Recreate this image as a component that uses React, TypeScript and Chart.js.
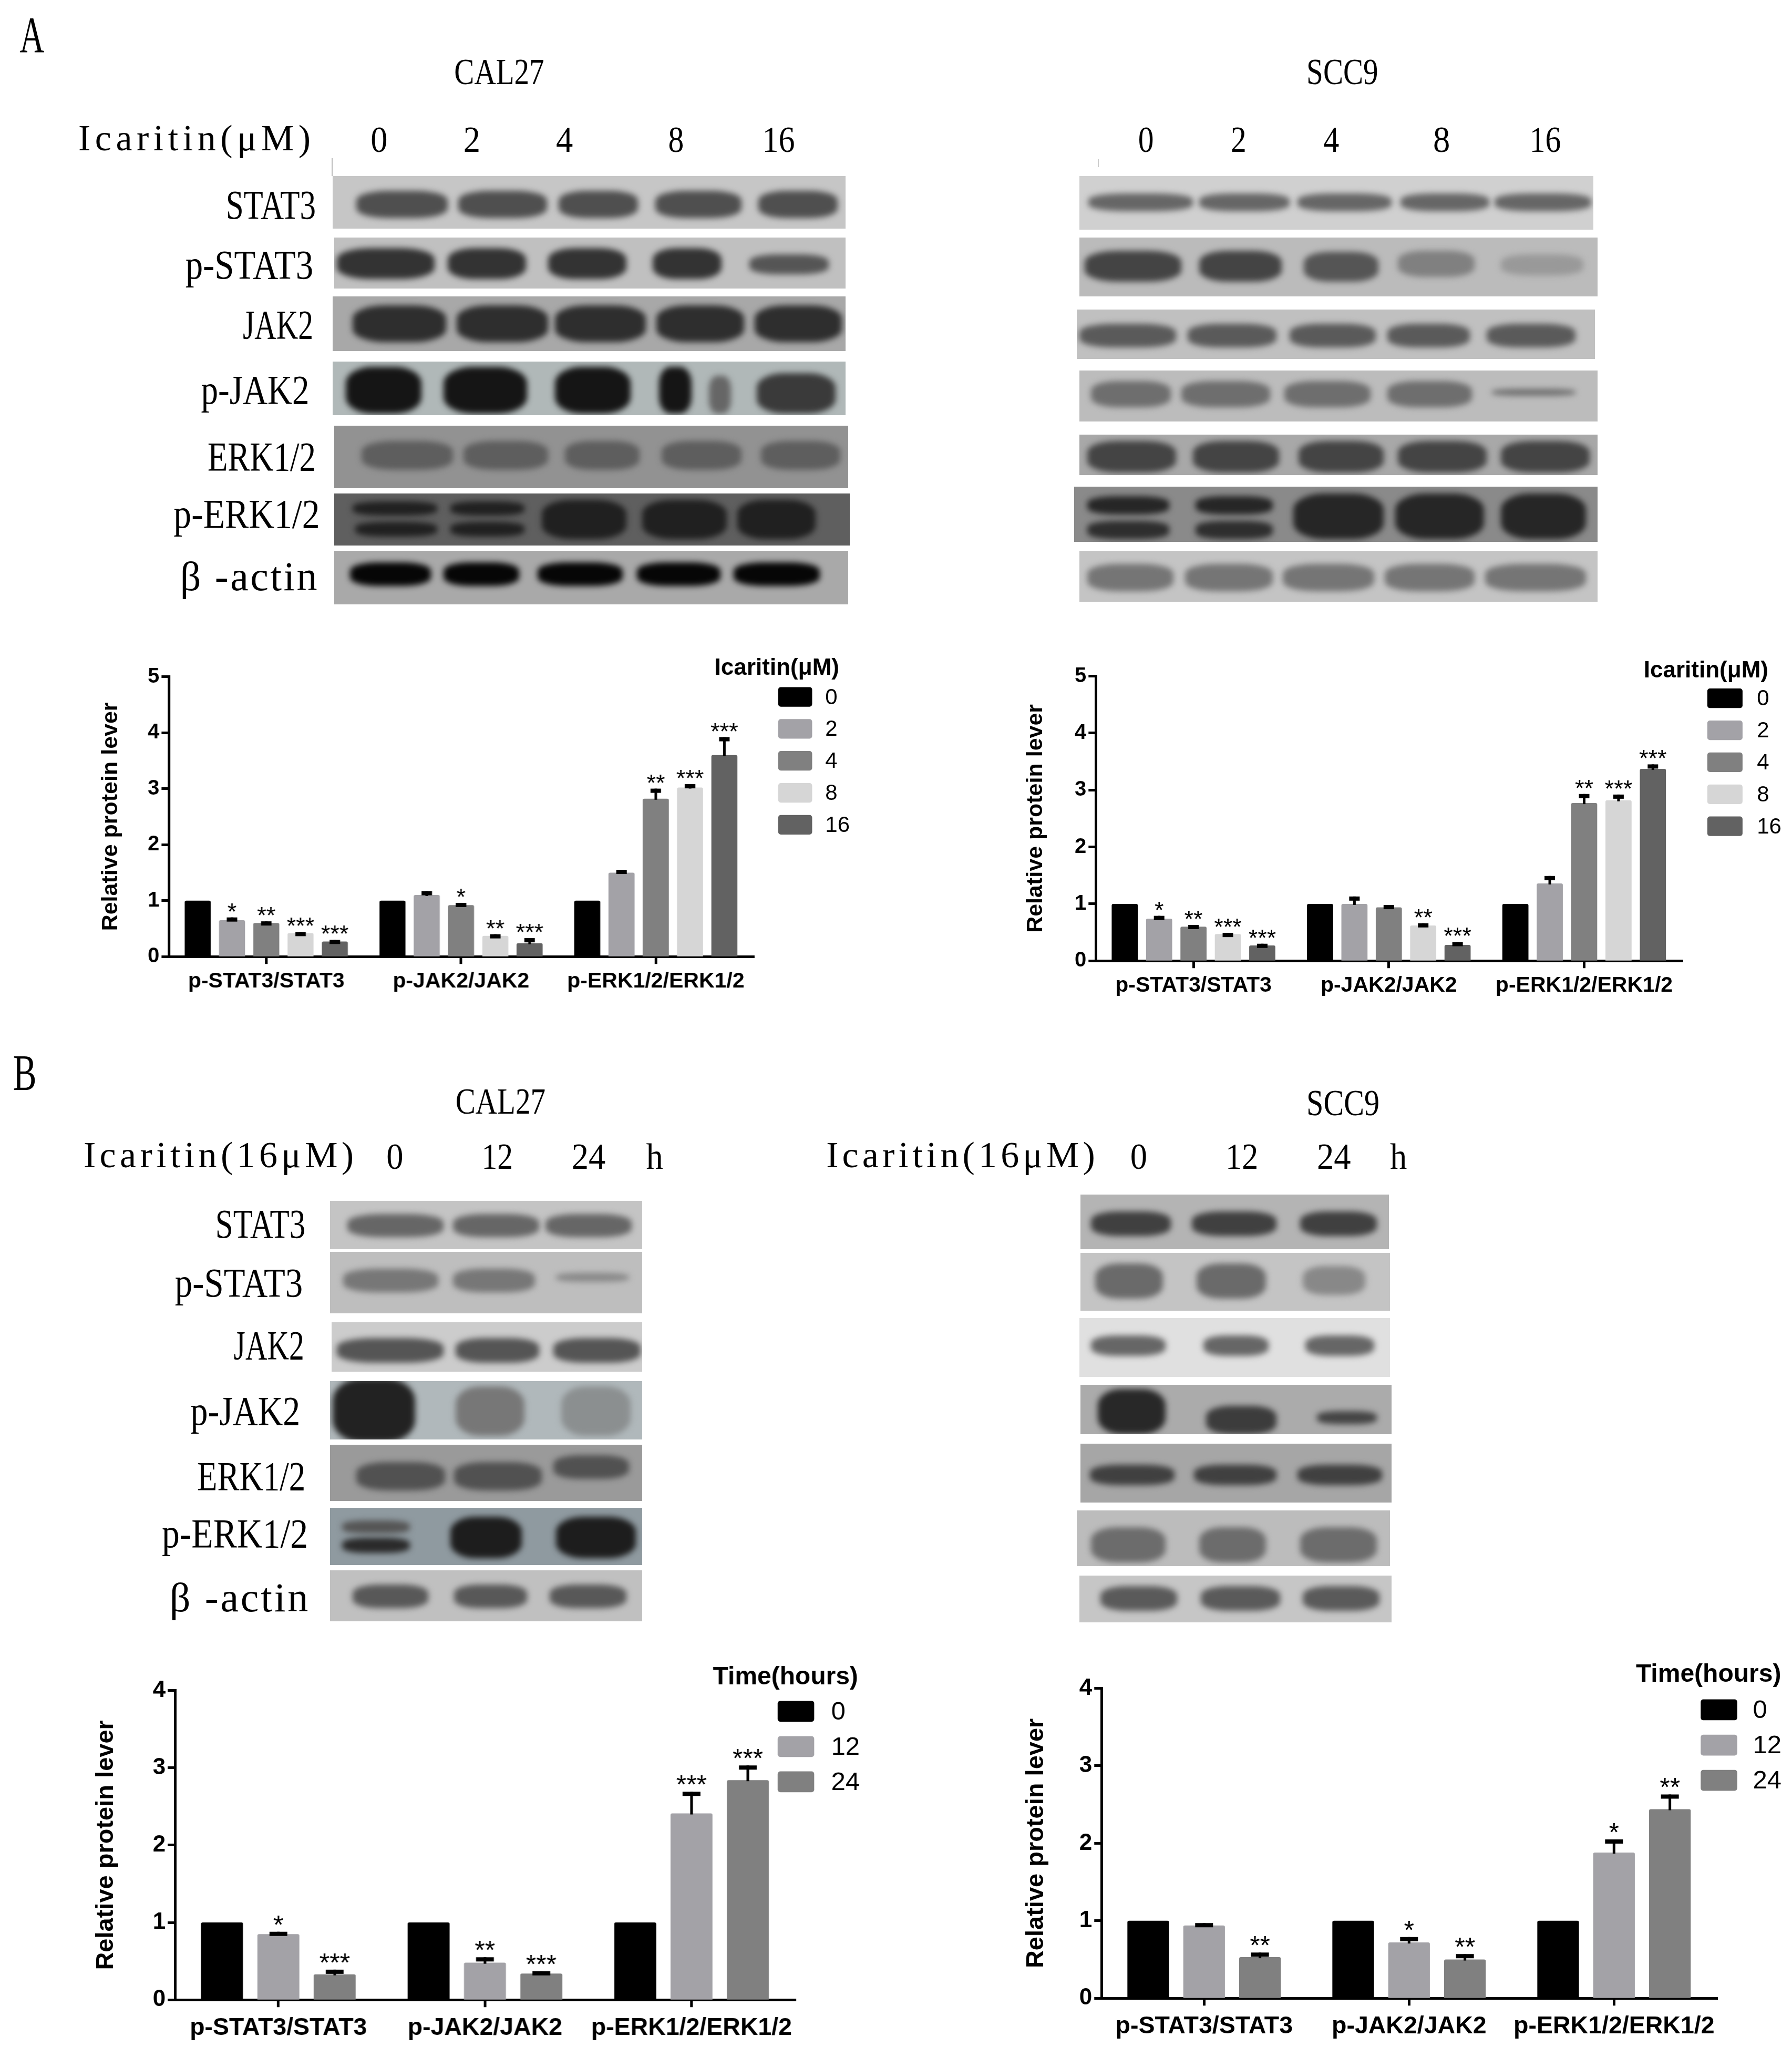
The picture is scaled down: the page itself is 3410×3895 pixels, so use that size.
import React, { useEffect, useRef } from 'react';
import { Chart, registerables } from 'chart.js';

Chart.register(...registerables);

// everything below is laid out in units of a 1373px wide view of the figure
const k = 3410 / 1373;

const groups = ['p-STAT3/STAT3', 'p-JAK2/JAK2', 'p-ERK1/2/ERK1/2'];
const doses = ['0', '2', '4', '8', '16'];
const hours = ['0', '12', '24'];
const doseColors = ['#000000', '#a3a2a7', '#808080', '#d6d6d6', '#626262'];
const hourColors = ['#000000', '#a3a2a7', '#808080'];
const doseTicks = [0, 1, 2, 3, 4, 5];
const hourTicks = [0, 1, 2, 3, 4];

// one inner array per legend entry, one value per group
const cal27DoseValues = [[1, 1, 1], [0.65, 1.1, 1.5], [0.6, 0.92, 2.82], [0.42, 0.37, 3.02], [0.27, 0.24, 3.6]];
const cal27DoseErrors = [[0, 0, 0], [0.05, 0.07, 0.05], [0.03, 0.04, 0.18], [0.02, 0.03, 0.06], [0.03, 0.09, 0.32]];
const cal27DoseStars = [['', '', ''], ['*', '', ''], ['**', '*', '**'], ['***', '**', '***'], ['***', '***', '***']];

const scc9DoseValues = [[1, 1, 1], [0.74, 1.0, 1.36], [0.6, 0.94, 2.77], [0.47, 0.62, 2.82], [0.27, 0.28, 3.37]];
const scc9DoseErrors = [[0, 0, 0], [0.05, 0.13, 0.13], [0.03, 0.04, 0.16], [0.02, 0.04, 0.1], [0.03, 0.05, 0.08]];
const scc9DoseStars = [['', '', ''], ['*', '', ''], ['**', '', '**'], ['***', '**', '***'], ['***', '***', '***']];

const cal27TimeValues = [[1, 1, 1], [0.85, 0.48, 2.41], [0.33, 0.34, 2.84]];
const cal27TimeErrors = [[0, 0, 0], [0.03, 0.07, 0.28], [0.06, 0.03, 0.19]];
const cal27TimeStars = [['', '', ''], ['*', '**', '***'], ['***', '***', '***']];

const scc9TimeValues = [[1, 1, 1], [0.94, 0.72, 1.88], [0.53, 0.5, 2.44]];
const scc9TimeErrors = [[0, 0, 0], [0.03, 0.07, 0.17], [0.06, 0.07, 0.19]];
const scc9TimeStars = [['', '', ''], ['', '*', '*'], ['**', '**', '**']];

// text of the blot part: [text, left, right, middle of the capitals]
const bigLetters: [string, number, number, number][] = [
  ['A', 15, 34, 27],
  ['B', 10, 28, 822],
];
const headings: [string, number, number, number][] = [
  ['CAL27', 348, 417, 55], ['SCC9', 1001, 1056, 55],
  ['CAL27', 349, 418, 844], ['SCC9', 1001, 1057, 845],
  ['Icaritin(μM)', 60, 238, 106],
  ['0', 284, 297, 107], ['2', 355, 368, 107], ['4', 426, 439, 107], ['8', 512, 524, 107], ['16', 584, 609, 107],
  ['0', 872, 884, 107], ['2', 943, 955, 107], ['4', 1014, 1026, 107], ['8', 1098, 1111, 107], ['16', 1172, 1196, 107],
  ['Icaritin(16μM)', 64, 271, 885],
  ['0', 296, 309, 886], ['12', 369, 393, 886], ['24', 438, 464, 886], ['h', 495, 508, 886],
  ['Icaritin(16μM)', 633, 839, 885],
  ['0', 866, 879, 886], ['12', 939, 964, 886], ['24', 1009, 1035, 886], ['h', 1065, 1078, 886],
];
const proteinLabels: [string, number, number, number][] = [
  ['STAT3', 173, 242, 157], ['p-STAT3', 142, 240, 203], ['JAK2', 186, 240, 249], ['p-JAK2', 154, 237, 299],
  ['ERK1/2', 159, 242, 350], ['p-ERK1/2', 133, 245, 394], ['β -actin', 138, 243, 442],
  ['STAT3', 165, 234, 938], ['p-STAT3', 134, 232, 983], ['JAK2', 179, 233, 1031], ['p-JAK2', 146, 230, 1081],
  ['ERK1/2', 151, 234, 1131], ['p-ERK1/2', 124, 236, 1175], ['β -actin', 130, 236, 1224],
];

type Lanes = [number, number][];
// blot strip: box x0,x1,y0,y1, film grey, then bands [y0, y1, colour, lanes]
type Strip = [number, number, number, number, string, [number, number, string, Lanes][]];

const cal27DoseBlot: Strip[] = [
  [255, 648, 135, 175, '#c6c6c6', [[146, 167, '#4f4f4f', [[273, 343], [351, 419], [428, 489], [502, 568], [581, 642]]]]],
  [256, 648, 182, 221, '#c0c0c0', [[190, 214, '#333333', [[258, 333], [343, 403], [420, 480], [500, 553]]], [195, 210, '#555555', [[574, 635]]]]],
  [255, 648, 227, 269, '#a8a8a8', [[234, 262, '#2e2e2e', [[270, 342], [350, 420], [425, 495], [503, 570], [578, 645]]]]],
  [255, 648, 277, 318, '#b0b8b8', [[281, 317, '#151515', [[265, 323], [340, 404], [425, 483], [505, 530]]], [288, 317, '#666666', [[543, 560]]], [286, 317, '#3a3a3a', [[580, 640]]]]],
  [256, 650, 326, 374, '#929292', [[338, 360, '#5e5e5e', [[277, 347], [355, 420], [433, 490], [507, 568], [583, 644]]]]],
  [256, 651, 378, 418, '#5f5f5f', [[384, 395, '#202020', [[270, 335], [345, 402]]], [400, 411, '#202020', [[272, 335], [345, 402]]], [383, 413, '#202020', [[415, 480], [492, 557], [565, 625]]]]],
  [256, 650, 422, 463, '#a9a9a9', [[431, 449, '#060606', [[268, 330], [340, 398], [412, 477], [488, 552], [562, 628]]]]],
];
const scc9DoseBlot: Strip[] = [
  [827, 1221, 135, 176, '#d0d0d0', [[148, 162, '#666666', [[834, 914], [919, 988], [994, 1066], [1073, 1141], [1145, 1219]]]]],
  [827, 1224, 182, 227, '#bbbbbb', [[192, 216, '#444444', [[831, 905], [919, 982]]], [193, 216, '#555555', [[999, 1056]]], [192, 212, '#808080', [[1071, 1130]]], [195, 211, '#999999', [[1150, 1213]]]]],
  [825, 1222, 237, 275, '#c0c0c0', [[248, 266, '#5a5a5a', [[827, 901], [910, 978], [988, 1054], [1063, 1126], [1139, 1207]]]]],
  [827, 1224, 284, 323, '#bcbcbc', [[292, 312, '#6e6e6e', [[836, 897], [905, 973], [984, 1050], [1063, 1128]]], [298, 303, '#6e6e6e', [[1143, 1207]]]]],
  [827, 1224, 333, 364, '#a8a8a8', [[338, 362, '#444444', [[833, 901], [914, 980], [995, 1060], [1071, 1139], [1150, 1218]]]]],
  [823, 1224, 373, 415, '#8a8a8a', [[380, 394, '#262626', [[833, 896], [916, 975]]], [399, 413, '#2e2e2e', [[833, 896], [916, 975]]], [378, 413, '#262626', [[991, 1060], [1069, 1137], [1150, 1215]]]]],
  [827, 1224, 422, 461, '#c4c4c4', [[432, 453, '#757575', [[833, 899], [908, 975], [983, 1053], [1061, 1130], [1138, 1215]]]]],
];
const cal27TimeBlot: Strip[] = [
  [253, 492, 920, 957, '#c4c4c4', [[930, 948, '#666666', [[266, 340], [347, 413], [418, 484]]]]],
  [253, 492, 959, 1006, '#bebebe', [[972, 990, '#777777', [[263, 336], [347, 410]]], [975, 982, '#888888', [[426, 482]]]]],
  [254, 492, 1013, 1051, '#cccccc', [[1025, 1044, '#555555', [[258, 340], [349, 413], [424, 491]]]]],
  [253, 492, 1058, 1103, '#b0b8bb', [[1056, 1105, '#222222', [[255, 318]]], [1062, 1100, '#777777', [[349, 402]]], [1062, 1100, '#8b8f90', [[430, 483]]]]],
  [253, 492, 1107, 1150, '#9a9a9a', [[1120, 1142, '#515151', [[273, 341], [348, 415]]], [1115, 1133, '#515151', [[424, 482]]]]],
  [253, 492, 1155, 1199, '#8f9aa0', [[1178, 1190, '#2a2a2a', [[262, 314]]], [1165, 1175, '#555555', [[262, 314]]], [1162, 1194, '#1d1d1d', [[345, 400], [426, 487]]]]],
  [253, 492, 1203, 1242, '#c0c0c0', [[1214, 1232, '#585858', [[270, 328], [348, 404], [421, 480]]]]],
];
const scc9TimeBlot: Strip[] = [
  [828, 1064, 915, 957, '#b4b4b4', [[928, 947, '#404040', [[836, 897], [913, 978], [996, 1055]]]]],
  [828, 1065, 960, 1004, '#c4c4c4', [[968, 995, '#6a6a6a', [[839, 891], [917, 970]]], [970, 992, '#888888', [[998, 1046]]]]],
  [827, 1065, 1010, 1055, '#e0e0e0', [[1023, 1039, '#666666', [[836, 893], [922, 972], [1000, 1053]]]]],
  [828, 1066, 1061, 1099, '#ababab', [[1064, 1099, '#282828', [[841, 893]]], [1077, 1099, '#3c3c3c', [[924, 978]]], [1081, 1091, '#444444', [[1009, 1055]]]]],
  [828, 1066, 1106, 1151, '#a6a6a6', [[1122, 1138, '#404040', [[835, 900], [915, 978], [994, 1059]]]]],
  [825, 1065, 1157, 1200, '#bcbcbc', [[1170, 1197, '#6c6c6c', [[836, 893], [919, 970], [996, 1055]]]]],
  [827, 1066, 1207, 1243, '#c6c6c6', [[1215, 1234, '#5a5a5a', [[843, 902], [920, 981], [998, 1057]]]]],
];
const blots = [cal27DoseBlot, scc9DoseBlot, cal27TimeBlot, scc9TimeBlot];

interface Panel {
  values: number[][];
  errors: number[][];
  stars: string[][];
  entries: string[];
  colors: string[];
  ticks: number[];
  title: string;
  titlePad: number;
  axis: { left: number; right: number; top: number; bottom: number };
  legend: { titleX: number; titleY: number; boxX: number; boxW: number; boxH: number; rowY: number; rowGap: number; labelX: number };
  sizes: { tick: number; xTick: number; tickPad: number; axisTitle: number; legendTitle: number; legendLabel: number; star: number; cap: number; barPct: number; catPct: number };
}

const doseSizes = { tick: 40, xTick: 41, tickPad: 9, axisTitle: 43, legendTitle: 44, legendLabel: 42, star: 45, cap: 20, barPct: 0.76, catPct: 0.88 };
const timeSizes = { tick: 44, xTick: 46.5, tickPad: 12, axisTitle: 47, legendTitle: 48, legendLabel: 49, star: 50, cap: 34, barPct: 0.745, catPct: 0.818 };

const panels: Panel[] = [
  {
    values: cal27DoseValues, errors: cal27DoseErrors, stars: cal27DoseStars, entries: doses, colors: doseColors,
    ticks: doseTicks, title: 'Icaritin(μM)', titlePad: 50, sizes: doseSizes,
    axis: { left: 129.5, right: 577, top: 518.5, bottom: 733 },
    legend: { titleX: 595, titleY: 512, boxX: 596, boxW: 26, boxH: 15, rowY: 534, rowGap: 24.5, labelX: 632 },
  },
  {
    values: scc9DoseValues, errors: scc9DoseErrors, stars: scc9DoseStars, entries: doses, colors: doseColors,
    ticks: doseTicks, title: 'Icaritin(μM)', titlePad: 46, sizes: doseSizes,
    axis: { left: 839.5, right: 1288.5, top: 518, bottom: 736 },
    legend: { titleX: 1307, titleY: 514, boxX: 1308, boxW: 27, boxH: 15, rowY: 535, rowGap: 24.5, labelX: 1346 },
  },
  {
    values: cal27TimeValues, errors: cal27TimeErrors, stars: cal27TimeStars, entries: hours, colors: hourColors,
    ticks: hourTicks, title: 'Time(hours)', titlePad: 27, sizes: timeSizes,
    axis: { left: 134, right: 609, top: 1295, bottom: 1532 },
    legend: { titleX: 602, titleY: 1285, boxX: 596, boxW: 28, boxH: 16, rowY: 1311, rowGap: 27, labelX: 637 },
  },
  {
    values: scc9TimeValues, errors: scc9TimeErrors, stars: scc9TimeStars, entries: hours, colors: hourColors,
    ticks: hourTicks, title: 'Time(hours)', titlePad: 34, sizes: timeSizes,
    axis: { left: 844, right: 1315, top: 1293.5, bottom: 1531 },
    legend: { titleX: 1309, titleY: 1283, boxX: 1303, boxW: 28, boxH: 16, rowY: 1310, rowGap: 27, labelX: 1343 },
  },
];

const PAD = { left: 75, right: 80, top: 30, bottom: 45 };

const BarPanel: React.FC<{ panel: Panel }> = ({ panel }) => {
  const canvasRef = useRef<HTMLCanvasElement>(null);
  const { axis, legend, sizes } = panel;
  const boxLeft = axis.left - PAD.left;
  const boxTop = axis.top - PAD.top;
  const boxWidth = axis.right - axis.left + PAD.left + PAD.right;
  const boxHeight = axis.bottom - axis.top + PAD.top + PAD.bottom;

  useEffect(() => {
    if (!canvasRef.current) return;

    // error bars and significance stars, placed with the chart's own scales
    const marks = {
      id: 'marks',
      afterDatasetsDraw(chart: any) {
        const ctx = chart.ctx;
        const y = chart.scales.y;
        ctx.save();
        ctx.fillStyle = '#000';
        ctx.textAlign = 'center';
        ctx.textBaseline = 'alphabetic';
        ctx.font = `${sizes.star}px "Liberation Sans"`;
        panel.values.forEach((series, i) => {
          const bars = chart.getDatasetMeta(i).data;
          series.forEach((value, j) => {
            const err = panel.errors[i][j];
            const x = bars[j].x;
            const top = y.getPixelForValue(value + err);
            if (err > 0) {
              ctx.fillRect(x - 2.5, top, 5, y.getPixelForValue(value) - top + 2);
              ctx.fillRect(x - sizes.cap / 2, top, sizes.cap, 8);
            }
            if (panel.stars[i][j]) ctx.fillText(panel.stars[i][j], x, top + 4);
          });
        });
        ctx.restore();
      },
    };

    // the legend sits over the plot's right end, which the built-in one cannot do
    const sideLegend = {
      id: 'sideLegend',
      afterDraw(chart: any) {
        const ctx = chart.ctx;
        ctx.save();
        ctx.fillStyle = '#000';
        ctx.textBaseline = 'middle';
        ctx.textAlign = 'center';
        ctx.font = `bold ${sizes.legendTitle}px "Liberation Sans"`;
        ctx.fillText(panel.title, (legend.titleX - boxLeft) * k, (legend.titleY - boxTop) * k);
        ctx.textAlign = 'left';
        ctx.font = `${sizes.legendLabel}px "Liberation Sans"`;
        chart.data.datasets.forEach((set: any, i: number) => {
          const cy = (legend.rowY + legend.rowGap * i - boxTop) * k;
          const h = legend.boxH * k;
          ctx.fillStyle = set.backgroundColor;
          ctx.beginPath();
          ctx.roundRect((legend.boxX - boxLeft) * k, cy - h / 2, legend.boxW * k, h, 5);
          ctx.fill();
          ctx.fillStyle = '#000';
          ctx.fillText(set.label, (legend.labelX - boxLeft) * k, cy + 2);
        });
        ctx.restore();
      },
    };

    const chart = new Chart(canvasRef.current, {
      type: 'bar',
      data: {
        labels: groups,
        datasets: panel.values.map((data, i) => ({
          label: panel.entries[i],
          data,
          backgroundColor: panel.colors[i],
          borderRadius: 3,
          barPercentage: sizes.barPct,
          categoryPercentage: sizes.catPct,
        })),
      },
      plugins: [marks, sideLegend],
      options: {
        responsive: false,
        animation: false,
        devicePixelRatio: 1,
        layout: { padding: { top: PAD.top * k, right: PAD.right * k, left: 0, bottom: 0 } },
        plugins: { legend: { display: false }, tooltip: { enabled: false }, title: { display: false } },
        scales: {
          x: {
            afterFit: (scale: any) => { scale.height = PAD.bottom * k; },
            // ticks under the group centres, not on the group boundaries
            grid: { offset: false, drawOnChartArea: false, color: '#000', lineWidth: 5, tickLength: 14, tickWidth: 5, tickColor: '#000' },
            border: { color: '#000', width: 5 },
            ticks: {
              color: '#000',
              padding: sizes.tickPad,
              maxRotation: 0,
              autoSkip: false,
              font: { family: '"Liberation Sans"', weight: 'bold', size: sizes.xTick },
            },
          },
          y: {
            min: 0,
            max: panel.ticks[panel.ticks.length - 1],
            afterFit: (scale: any) => { scale.width = PAD.left * k; },
            afterBuildTicks: (scale: any) => { scale.ticks = panel.ticks.map((value) => ({ value })); },
            grid: { drawOnChartArea: false, color: '#000', tickLength: 14, tickWidth: 5, tickColor: '#000' },
            border: { color: '#000', width: 5 },
            title: {
              display: true,
              text: 'Relative protein lever',
              color: '#000',
              padding: { top: panel.titlePad, bottom: 0 },
              font: { family: '"Liberation Sans"', weight: 'bold', size: sizes.axisTitle },
            },
            ticks: {
              color: '#000',
              padding: 4,
              font: { family: '"Liberation Sans"', weight: 'bold', size: sizes.tick },
            },
          },
        },
      } as any,
    });

    return () => {
      chart.destroy();
    };
  }, [panel]);

  return (
    <canvas
      ref={canvasRef}
      width={Math.round(boxWidth * k)}
      height={Math.round(boxHeight * k)}
      style={{ position: 'absolute', left: boxLeft * k, top: boxTop * k, width: boxWidth * k, height: boxHeight * k }}
    />
  );
};

const BlotStrip: React.FC<{ strip: Strip }> = ({ strip }) => {
  const [x0, x1, y0, y1, film, bands] = strip;
  return (
    <div style={{ position: 'absolute', left: x0 * k, top: y0 * k, width: (x1 - x0) * k, height: (y1 - y0) * k, background: film, overflow: 'hidden' }}>
      {bands.map(([top, bottom, color, lanes], b) =>
        lanes.map(([l, r], n) => (
          <div
            key={`${b}-${n}`}
            style={{
              position: 'absolute',
              left: (l - x0) * k,
              top: (top - y0) * k,
              width: (r - l) * k,
              height: (bottom - top) * k,
              background: color,
              borderRadius: '35%',
              filter: 'blur(6px)',
            }}
          />
        )),
      )}
    </div>
  );
};

// SimSun-like narrow text: fitted to the measured width of each word,
// the long wide-set ones by spacing only so the glyphs stay narrow
const FigureText: React.FC<{ rows: [string, number, number, number][]; size: number }> = ({ rows, size }) => (
  <>
    {rows.map(([text, left, right, mid], i) => (
      <text
        key={i}
        x={left * k}
        y={mid * k + size * 0.33}
        fontFamily='"Liberation Serif"'
        fontSize={size}
        textLength={(right - left) * k}
        lengthAdjust={text.startsWith('Icaritin') || text.startsWith('β') ? 'spacing' : 'spacingAndGlyphs'}
        fill="#000"
      >
        {text}
      </text>
    ))}
  </>
);

export default function App() {
  return (
    <div style={{ position: 'absolute', left: 0, top: 0, width: 3410, height: 3895, background: '#fff', overflow: 'hidden' }}>
      {blots.map((blot, b) => blot.map((strip, s) => <BlotStrip key={`${b}-${s}`} strip={strip} />))}
      <div style={{ position: 'absolute', left: 254 * k, top: 121 * k, width: 2, height: 14 * k, background: '#bbb' }} />
      <div style={{ position: 'absolute', left: 841 * k, top: 122 * k, width: 2, height: 6 * k, background: '#ccc' }} />
      <svg width={3410} height={3895} style={{ position: 'absolute', left: 0, top: 0 }}>
        <FigureText rows={bigLetters} size={97} />
        <FigureText rows={headings} size={70} />
        <FigureText rows={proteinLabels} size={78} />
      </svg>
      {panels.map((panel, i) => <BarPanel key={i} panel={panel} />)}
    </div>
  );
}
